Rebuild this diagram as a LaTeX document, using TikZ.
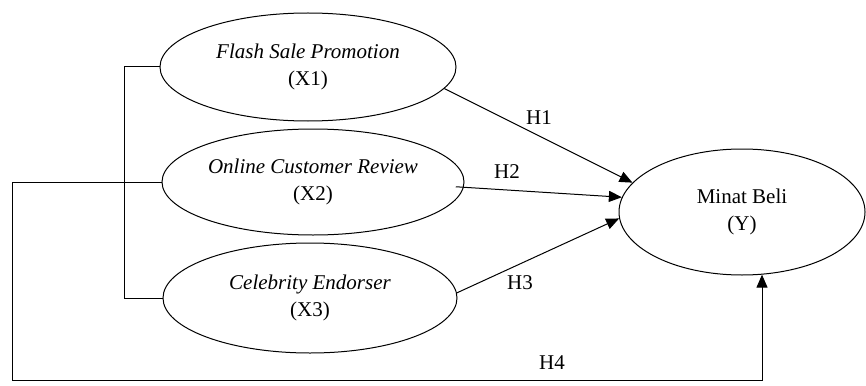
\documentclass[tikz,border=0pt]{standalone}
\usepackage{fontspec}
\setmainfont{Liberation Serif}
\usetikzlibrary{shapes.geometric,arrows.meta}
\begin{document}
\begin{tikzpicture}[x=1pt,y=-1pt,
  line width=1pt,
  var/.style={draw, ellipse, inner sep=0pt, align=center,
    font=\fontsize{21}{27}\selectfont},
  hlab/.style={inner sep=0pt, font=\fontsize{21}{27}\selectfont},
  arr/.style={-{Triangle[length=13pt,width=11pt]}}]
\path[use as bounding box] (0,0) rectangle (866,385);
\node[var, minimum width=296pt, minimum height=108pt] (X1) at (308,67) {\itshape Flash Sale Promotion\\(X1)};
\node[var, minimum width=302pt, minimum height=106pt] (X2) at (313,182) {\itshape Online Customer Review\\(X2)};
\node[var, minimum width=294pt, minimum height=110pt] (X3) at (310,298) {\itshape Celebrity Endorser\\(X3)};
\node[var, minimum width=246pt, minimum height=126pt] (Y) at (742,212) {Minat Beli\\(Y)};
% bracket joining X1, X2, X3
\coordinate (b1) at (124,67);
\draw (X1.west) -- (b1) |- (X3.west);
\draw (X2.west) -- (b1 |- X2.west);
% H4 path
\coordinate (c1) at (12,182);
\coordinate (c2) at (12,380);
\coordinate (c3) at (762,380);
\draw[arr] (X2.west) -- (c1) -- (c2) -- (c3) -- (c3 |- Y.-72);
% H1-H3
\draw[arr] (X1.-9) -- (Y.165);
\draw[arr, shorten <=-8pt] (X2.-2) -- (Y.173);
\draw[arr] (X3.2) -- (Y.183);
% labels
\node[hlab] (h1) at (539,118) {H1};
\node[hlab] (h2) at (507,172) {H2};
\node[hlab] (h3) at (520,283) {H3};
\node[hlab] (h4) at (552,363) {H4};
\end{tikzpicture}
\end{document}
